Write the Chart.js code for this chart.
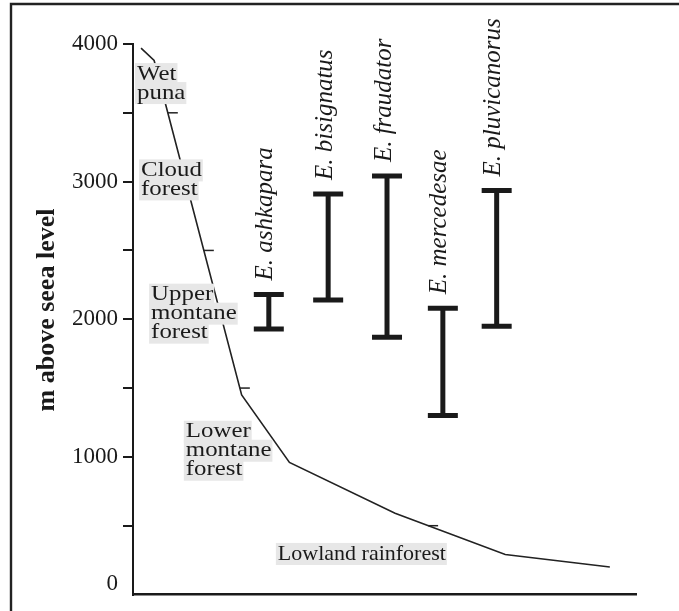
<!DOCTYPE html>
<html>
<head>
<meta charset="utf-8">
<script src="https://cdn.jsdelivr.net/npm/chart.js@4/dist/chart.umd.min.js"></script>
<style>
  html, body { margin: 0; padding: 0; background: #ffffff; }
  #wrap { width: 679px; height: 611px; position: relative; }
</style>
</head>
<body>
<div id="wrap"><canvas id="c" width="679" height="611"></canvas></div>
<script>
// Altitudinal ranges (m) of each species
const speciesNames = ['E. ashkapara', 'E. bisignatus', 'E. fraudator', 'E. mercedesae', 'E. pluvicanorus'];
const speciesPos   = [27.0, 38.8, 50.5, 61.6, 72.3];
const rangeLow     = [1930, 2140, 1870, 1300, 1950];
const rangeHigh    = [2180, 2910, 3040, 2080, 2935];

// Elevation profile along the transect
const profileDist = [1.6, 4.2, 21.6, 31.1, 52.1, 74.0, 94.8];
const profileElev = [3970, 3880, 1450, 960, 590, 290, 200];
const profileMarks = [3500, 2500, 1500, 500];

// Vegetation zones
const zoneNames = [['Wet', 'puna'], ['Cloud', 'forest'], ['Upper', 'montane', 'forest'], ['Lower', 'montane', 'forest'], ['Lowland rainforest']];
const zoneDist  = [0.8, 1.6, 3.6, 10.5, 28.8];
const zoneElev  = [3740, 3040, 2137, 1141, 253];

// Axis
const yTicks = [0, 1000, 2000, 3000, 4000];
const yTitle = 'm above seea level';

const INK = '#1a1a1a';
const SERIF = '"Liberation Serif", "Times New Roman", serif';
const TICK_FONT = 23;

const datasets = [{
  data: profileDist.map((d, i) => ({ x: d, y: profileElev[i] })),
  borderColor: '#222',
  borderWidth: 1.6,
  pointRadius: 0,
  tension: 0
}];
speciesNames.forEach((name, i) => {
  datasets.push({
    label: name,
    data: [{ x: speciesPos[i], y: rangeLow[i] }, { x: speciesPos[i], y: rangeHigh[i] }],
    borderColor: INK,
    borderWidth: 5,
    borderCapStyle: 'butt',
    pointStyle: 'line',
    pointRadius: 15,
    pointBorderWidth: 5,
    pointBorderColor: INK,
    pointHoverRadius: 15
  });
});

const annotate = {
  id: 'annotate',
  beforeDraw(chart) {
    const ctx = chart.ctx;
    ctx.save();
    ctx.fillStyle = '#ffffff';
    ctx.fillRect(0, 0, chart.width, chart.height);
    ctx.strokeStyle = '#222';
    ctx.lineWidth = 2.4;
    ctx.beginPath();
    ctx.moveTo(11, chart.height);
    ctx.lineTo(11, 4);
    ctx.lineTo(chart.width, 4);
    ctx.stroke();
    ctx.restore();
  },
  afterDatasetsDraw(chart) {
    const { ctx, scales: { x, y } } = chart;
    ctx.save();

    // the zero label sits above the corner of the axes
    ctx.font = TICK_FONT + 'px ' + SERIF;
    ctx.fillStyle = INK;
    ctx.textAlign = 'right';
    ctx.textBaseline = 'middle';
    ctx.fillText(String(yTicks[0]), y.right - 15, y.getPixelForValue(yTicks[0]) - 10.5);

    // short dashes on the profile every 1000 m, offset by 500
    ctx.strokeStyle = '#222';
    ctx.lineWidth = 1.5;
    profileMarks.forEach(e => {
      for (let i = 0; i < profileElev.length - 1; i++) {
        const e0 = profileElev[i], e1 = profileElev[i + 1];
        if ((e0 - e) * (e1 - e) <= 0 && e0 !== e1) {
          const d = profileDist[i] + (profileDist[i + 1] - profileDist[i]) * (e - e0) / (e1 - e0);
          const px = x.getPixelForValue(d), py = y.getPixelForValue(e);
          ctx.beginPath();
          ctx.moveTo(px, py);
          ctx.lineTo(px + 10, py);
          ctx.stroke();
          break;
        }
      }
    });

    // zone labels on grey boxes (multi-line ones are set slightly wide)
    const fs = 22, gap = 19;
    ctx.font = fs + 'px ' + SERIF;
    ctx.textAlign = 'left';
    ctx.textBaseline = 'alphabetic';
    const stretch = lines => (lines.length > 1 ? 1.13 : 1);
    zoneNames.forEach((lines, i) => {
      const px = x.getPixelForValue(zoneDist[i]);
      const by = y.getPixelForValue(zoneElev[i]);
      const sx = stretch(lines);
      ctx.fillStyle = '#e7e7e7';
      lines.forEach((t, j) => {
        const w = ctx.measureText(t).width * sx;
        const b = by + j * gap;
        ctx.fillRect(px - 2, b - fs * 0.76, w + 3, fs * 1.0);
      });
    });
    zoneNames.forEach((lines, i) => {
      const px = x.getPixelForValue(zoneDist[i]);
      const by = y.getPixelForValue(zoneElev[i]);
      const sx = stretch(lines);
      ctx.fillStyle = INK;
      lines.forEach((t, j) => {
        ctx.save();
        ctx.translate(px, by + j * gap);
        ctx.scale(sx, 1);
        ctx.fillText(t, 0, 0);
        ctx.restore();
      });
    });

    // species names above their ranges
    ctx.font = 'italic 25px ' + SERIF;
    ctx.fillStyle = INK;
    ctx.textBaseline = 'middle';
    speciesNames.forEach((s, i) => {
      const px = x.getPixelForValue(speciesPos[i]) - 3;
      const py = y.getPixelForValue(rangeHigh[i]) - 14;
      ctx.save();
      ctx.translate(px, py);
      ctx.rotate(-Math.PI / 2);
      ctx.fillText(s, 0, 0);
      ctx.restore();
    });

    // y axis title
    ctx.font = 'bold 26px ' + SERIF;
    ctx.textAlign = 'center';
    ctx.save();
    ctx.translate(47, 310);
    ctx.rotate(-Math.PI / 2);
    ctx.fillText(yTitle, 0, 0);
    ctx.restore();

    ctx.restore();
  }
};

new Chart(document.getElementById('c'), {
  type: 'line',
  data: { datasets },
  options: {
    responsive: false,
    animation: false,
    events: [],
    layout: { autoPadding: false, padding: { left: 0, top: 44, right: 43, bottom: 0 } },
    plugins: { legend: { display: false }, tooltip: { enabled: false } },
    scales: {
      x: {
        type: 'linear',
        min: 0,
        max: 100,
        ticks: { display: false },
        grid: { display: false },
        border: { display: true, color: INK, width: 2.5 },
        afterFit(scale) { scale.height = 13; }
      },
      y: {
        type: 'linear',
        min: 0,
        max: 4000,
        afterBuildTicks(scale) {
          const t = [];
          for (let v = 0; v <= 4000; v += 500) t.push({ value: v });
          scale.ticks = t;
        },
        ticks: {
          color: INK,
          padding: 5,
          font: { family: SERIF, size: TICK_FONT, lineHeight: 1 },
          callback(v) {
            return v !== 0 && yTicks.includes(v) ? String(v) : '';
          }
        },
        grid: {
          drawOnChartArea: false,
          drawTicks: true,
          tickLength: 10,
          lineWidth: 2,
          color: c => (c.tick && c.tick.value === 0 ? 'rgba(0,0,0,0)' : INK)
        },
        border: { display: true, color: INK, width: 2 },
        afterFit(scale) { scale.width = 133; }
      }
    }
  },
  plugins: [annotate]
});
</script>
</body>
</html>
